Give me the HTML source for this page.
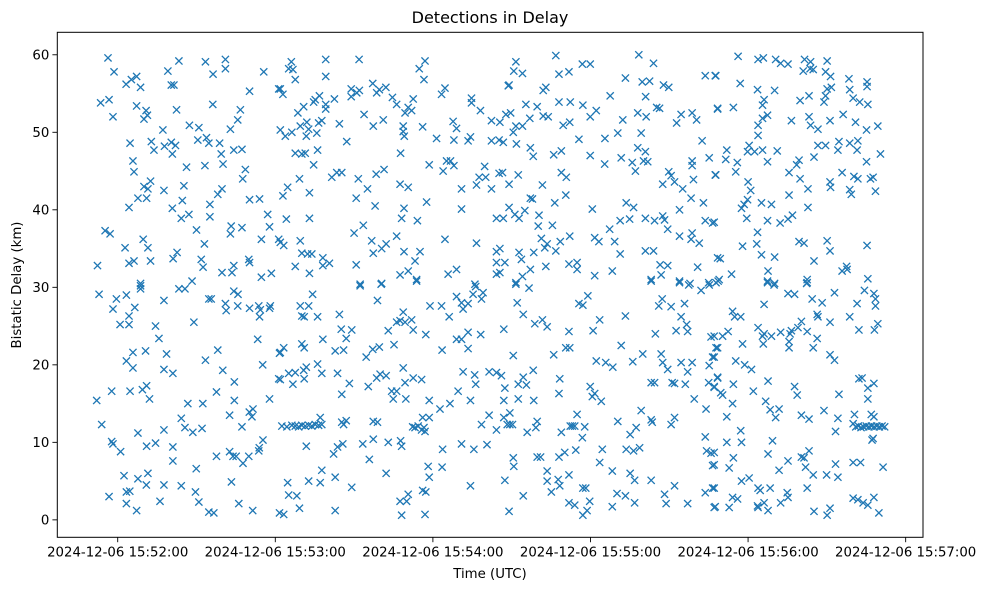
<!DOCTYPE html>
<html>
<head>
<meta charset="utf-8">
<style>
  html, body { margin: 0; padding: 0; background: #ffffff; }
  svg { display: block; font-family: "DejaVu Sans", "Liberation Sans", sans-serif; }
</style>
</head>
<body>
<svg id="chart" width="988" height="590" viewBox="0 0 988 590" xmlns="http://www.w3.org/2000/svg">
  <rect x="0" y="0" width="988" height="590" fill="#ffffff"/>
  <text x="490" y="23" text-anchor="middle" font-size="16" fill="#000">Detections in Delay</text>
  <g id="marks"></g>
  <g id="xticks"></g>
  <g id="yticks"></g>
  <rect x="57.3" y="32.3" width="865.7" height="505" fill="none" stroke="#000" stroke-width="1"/>
  <text x="490" y="578" text-anchor="middle" font-size="13.3" fill="#000">Time (UTC)</text>
  <text x="21" y="285" text-anchor="middle" font-size="13.3" fill="#000" transform="rotate(-90 21 285)">Bistatic Delay (km)</text>
</svg>
<script>
// x values: seconds after 2024-12-06 15:52:00 UTC; y values: bistatic delay (km)
const xTickValues = [0, 60, 120, 180, 240, 300];
const xTickLabels = ["2024-12-06 15:52:00", "2024-12-06 15:53:00", "2024-12-06 15:54:00", "2024-12-06 15:55:00", "2024-12-06 15:56:00", "2024-12-06 15:57:00"];
const yTickValues = [0, 10, 20, 30, 40, 50, 60];
const yTickLabels = ["0", "10", "20", "30", "40", "50", "60"];
const detections = [
[-3.7,59.6],[-1.4,57.8],[3.2,56.2],[5.2,56.8],[7.2,57.2],[8.7,55.8],[-6.5,53.8],[-3.3,54.2],[-1.8,52.0],[7.2,53.4],[10.8,52.8],[11.3,52.2],[10.0,51.7],[19.1,57.9],[23.3,59.2],[21.4,56.1],[20.4,56.1],[22.4,52.9],[33.4,59.1],[36.3,57.5],[41.0,59.4],[41.0,58.2],[55.6,57.8],[50.2,55.3],[61.3,55.6],[36.2,53.6],[46.7,52.9],[45.7,51.6],[42.9,50.4],[27.3,50.9],[30.9,50.6],[17.2,50.3],[4.7,48.6],[12.8,48.8],[13.8,47.7],[17.8,48.2],[20.4,48.7],[22.0,48.3],[20.8,47.2],[30.5,49.0],[33.8,49.3],[34.7,48.6],[38.8,48.6],[39.4,47.2],[40.1,45.9],[44.2,47.7],[47.3,47.8],[5.8,46.3],[6.2,44.9],[26.2,45.5],[33.2,45.7],[48.6,45.2],[47.6,44.0],[10.0,43.0],[11.5,42.7],[12.5,43.7],[17.6,42.5],[25.2,43.1],[7.7,41.5],[11.0,41.5],[4.3,40.3],[20.8,40.2],[24.6,41.2],[27.1,39.4],[24.2,38.9],[35.1,40.7],[35.1,39.1],[38.1,42.0],[39.7,42.7],[50.2,41.3],[54.0,41.4],[57.1,39.4],[57.8,37.8],[54.7,36.2],[61.3,36.2],[-4.8,37.3],[-2.9,36.9],[9.7,36.2],[11.5,35.1],[2.8,35.1],[30.0,37.4],[33.0,35.6],[43.2,37.9],[42.9,36.9],[47.3,37.7],[-7.7,32.8],[4.3,33.1],[6.2,33.4],[12.5,33.4],[21.1,33.7],[22.6,34.5],[31.8,33.6],[32.5,32.6],[39.7,31.9],[44.2,32.8],[43.5,31.9],[49.9,33.6],[50.2,33.2],[54.7,31.3],[58.5,31.8],[8.7,30.5],[28.3,30.8],
[-7.1,29.1],[-0.5,28.5],[3.3,29.0],[-1.8,27.2],[6.5,27.4],[4.3,26.3],[0.9,25.2],[4.3,25.2],[8.7,30.2],[8.7,29.8],[17.6,28.3],[23.3,29.8],[25.6,29.8],[14.4,25.0],[15.7,23.4],[29.0,25.5],[34.7,28.5],[35.6,28.5],[41.0,27.9],[41.3,27.0],[44.2,29.5],[45.8,29.1],[45.7,27.6],[50.2,27.3],[53.7,27.6],[54.3,27.1],[54.0,26.2],[58.1,27.6],[57.8,27.3],[53.3,23.3],[5.8,21.6],[3.3,20.5],[5.8,19.6],[10.6,21.8],[18.6,21.4],[17.6,19.4],[21.0,18.9],[33.4,20.6],[38.1,21.9],[40.0,19.3],[44.4,17.8],[55.2,20.0],[61.6,21.5],[61.3,18.2],[-8.0,15.4],[-2.3,16.6],[4.7,16.6],[9.4,16.8],[11.0,17.3],[12.1,15.6],[26.7,15.0],[32.4,15.0],[37.6,16.5],[44.4,15.4],[57.8,15.6],[42.6,13.5],[50.1,13.9],[51.5,14.3],[51.1,13.3],[-6.1,12.3],[24.2,13.1],[25.6,11.9],[28.6,11.3],[32.1,11.8],[17.6,11.6],[7.7,11.2],[47.3,12.0],[-2.3,10.1],[-1.8,9.8],[1.1,8.8],[11.0,9.5],[14.4,9.9],[21.0,9.4],[21.0,7.6],[37.6,8.2],[42.6,8.8],[43.9,8.2],[45.1,8.2],[47.7,7.3],[49.9,8.2],[53.9,9.3],[55.3,10.3],[53.7,8.9],[29.9,6.6],[2.4,5.7],[7.7,5.3],[11.5,6.0],[10.9,4.5],[3.3,3.6],[4.6,3.7],[-3.3,3.0],[3.3,2.1],[7.2,1.2],[17.6,4.5],[24.2,4.4],[29.6,3.6],[30.9,2.3],[16.1,2.4],[34.7,1.0],[36.6,0.9],[43.3,4.9],[46.1,2.1],[51.4,1.2],[61.6,0.9],
[66.1,59.1],[65.1,58.2],[66.7,58.1],[67.6,56.8],[62.9,54.9],[61.9,55.6],[79.2,59.4],[79.2,57.2],[91.9,59.4],[114.8,58.2],[117.0,59.2],[116.6,56.8],[68.6,52.5],[70.8,53.3],[74.6,53.9],[76.8,54.7],[75.2,54.2],[79.2,53.6],[79.2,53.0],[82.5,54.3],[88.9,55.6],[92.0,55.4],[91.0,55.1],[88.9,54.6],[97.1,56.3],[98.6,55.1],[99.6,55.5],[102.1,55.8],[104.6,54.5],[106.2,53.6],[109.4,52.5],[110.6,53.2],[111.9,52.8],[112.5,54.3],[123.3,54.9],[124.6,55.7],[134.7,54.4],[134.7,53.8],[138.1,52.8],[93.8,52.3],[61.9,50.3],[63.8,49.5],[66.3,50.0],[69.5,50.8],[72.0,51.3],[72.7,50.4],[75.8,49.9],[76.5,51.2],[77.7,51.5],[71.8,49.5],[84.4,51.1],[87.2,48.8],[97.3,50.8],[101.1,51.6],[108.7,50.8],[108.7,50.1],[109.1,49.5],[116.1,50.7],[121.4,49.2],[127.7,51.4],[129.0,50.5],[128.0,49.0],[133.4,48.9],[134.3,49.4],[142.3,51.5],[142.3,48.9],[145.2,49.0],[67.6,47.3],[70.1,47.2],[71.4,47.3],[76.1,47.7],[74.6,45.8],[107.7,47.3],[118.6,45.8],[123.9,45.0],[125.2,46.3],[126.7,46.3],[128.0,45.7],[139.7,45.6],[137.6,44.2],[136.6,43.2],[140.1,44.2],[142.3,42.7],[145.2,44.7],[69.2,44.0],[64.7,42.9],[62.9,41.8],[73.0,42.2],[81.5,44.2],[83.4,44.8],[85.3,44.8],[91.6,44.0],[95.1,42.7],[90.8,41.5],[98.4,44.6],[101.4,45.2],[107.5,43.3],[110.6,42.9],[98.0,40.5],[109.0,40.2],[108.1,38.9],[114.1,38.6],[117.6,41.0],[130.9,42.7],[130.9,40.1],[144.2,38.9],[64.2,38.8],[73.0,38.9],[93.5,38.0],[90.0,37.0],[96.7,36.0],[106.2,36.6],[102.2,35.6],[100.5,35.0],[97.3,34.4],[109.0,34.6],[115.1,34.6],[113.2,33.4],[61.9,35.8],[63.2,35.4],[69.5,36.0],[70.1,34.4],[73.9,34.3],[72.3,34.3],[78.1,33.8],[78.1,32.8],[80.6,33.1],[67.6,32.7],[73.0,31.8],[90.8,32.9],[92.3,30.4],[100.5,30.5],[107.5,31.6],[110.6,32.1],[113.8,31.0],[124.6,36.2],[136.6,35.7],[144.2,34.6],[144.2,33.2],[144.2,31.7],[125.8,31.7],[129.0,32.3],[136.0,30.4],
[92.3,30.2],[100.3,30.4],[113.8,30.8],[74.2,29.1],[69.5,27.6],[72.7,27.6],[70.1,26.3],[71.0,26.2],[76.1,26.2],[84.4,26.5],[98.9,28.3],[118.9,27.6],[123.3,27.6],[126.2,26.2],[129.0,28.8],[130.9,28.0],[131.5,27.2],[133.4,27.9],[136.3,30.1],[135.3,29.1],[139.1,29.3],[138.5,28.5],[108.7,26.8],[107.5,25.7],[106.2,25.5],[109.4,25.5],[111.9,25.8],[112.5,24.5],[103.0,24.4],[85.1,24.6],[89.1,24.5],[87.0,23.4],[78.1,23.3],[117.3,23.9],[129.0,23.3],[130.9,23.3],[133.4,24.2],[133.4,22.1],[138.2,23.9],[123.5,21.9],[63.2,22.2],[61.9,21.6],[70.1,22.7],[71.0,22.2],[82.8,21.8],[86.0,21.9],[94.6,21.0],[97.1,22.0],[99.6,22.3],[105.2,22.6],[61.9,18.1],[65.1,18.9],[67.6,19.0],[66.7,17.5],[70.8,19.3],[71.8,19.7],[71.0,18.2],[76.1,20.1],[77.7,18.9],[83.7,18.9],[88.2,17.6],[85.3,16.2],[95.4,17.2],[98.6,18.3],[99.9,18.8],[102.2,18.6],[108.7,19.6],[112.5,18.3],[115.7,18.1],[109.4,17.7],[104.3,16.6],[106.2,16.6],[104.9,15.6],[109.7,15.6],[118.6,15.4],[122.7,14.3],[126.5,15.0],[129.6,16.6],[134.3,15.4],[131.5,19.1],[135.9,18.7],[136.3,17.5],[141.4,19.1],[144.2,19.0],
[62.5,12.1],[64.4,12.0],[66.3,12.2],[67.6,12.1],[68.9,12.0],[70.1,12.2],[71.4,12.1],[72.7,12.2],[73.9,12.1],[75.2,12.3],[76.5,12.2],[77.7,12.3],[77.1,13.2],[85.3,12.6],[87.0,12.8],[86.0,12.3],[97.3,12.7],[98.9,12.6],[112.3,12.0],[114.4,12.1],[116.1,13.2],[116.6,11.9],[115.7,11.6],[118.6,13.2],[113.2,11.9],[117.0,11.4],[141.4,13.5],[138.5,12.3],[144.2,11.6],[71.8,9.5],[82.2,8.5],[83.7,9.4],[85.7,9.8],[93.3,9.8],[97.3,10.4],[103.0,10.0],[107.7,10.2],[108.1,9.5],[123.7,9.1],[130.9,9.8],[135.6,9.1],[140.6,9.7],[95.8,7.8],[77.7,6.4],[102.2,6.0],[64.7,4.8],[72.7,5.0],[77.1,4.8],[82.8,5.5],[89.1,4.2],[118.2,6.9],[118.6,5.5],[123.5,6.8],[134.3,4.4],[65.1,3.2],[68.2,3.1],[69.2,1.5],[63.2,0.7],[82.8,1.2],[107.5,2.4],[110.6,3.3],[110.0,2.4],[116.1,3.8],[117.3,3.6],[108.1,0.6],[117.0,0.7],
[151.6,59.1],[150.8,57.9],[154.1,57.6],[148.7,56.0],[149.0,56.1],[166.8,59.9],[168.0,57.5],[171.8,57.8],[176.9,58.8],[179.9,58.8],[162.0,55.4],[163.0,55.8],[155.4,53.6],[159.7,53.3],[168.0,53.9],[172.3,53.9],[177.1,53.5],[182.2,52.8],[179.9,52.0],[187.5,54.7],[147.8,52.3],[149.6,52.5],[145.5,51.3],[156.9,51.8],[162.0,52.1],[163.9,52.0],[151.6,50.8],[150.6,50.0],[154.1,50.8],[169.6,50.9],[172.1,51.3],[146.8,48.7],[151.8,48.5],[157.1,48.0],[158.2,46.9],[166.0,47.1],[168.9,47.6],[175.6,49.1],[179.9,47.0],[185.5,49.2],[190.4,49.9],[192.3,51.6],[198.4,60.0],[204.0,58.9],[193.3,57.0],[199.7,56.5],[202.5,56.6],[201.0,54.6],[207.8,56.1],[209.8,55.8],[198.0,52.5],[201.2,52.0],[205.2,53.2],[206.3,53.1],[199.3,49.9],[214.5,52.3],[212.8,51.2],[218.7,52.5],[220.4,51.6],[223.7,57.3],[227.5,57.3],[228.4,53.1],[222.5,48.9],[198.0,48.0],[200.9,47.5],[201.8,46.2],[200.2,46.3],[195.9,46.1],[197.1,45.0],[191.7,46.7],[185.4,45.9],[218.7,46.3],[218.7,45.7],[225.2,46.7],[227.5,44.5],[209.8,44.9],[210.7,44.4],[207.5,43.3],[212.0,43.6],[215.1,42.7],[219.2,43.9],[146.5,44.8],[152.5,44.5],[149.0,43.3],[161.7,43.2],[168.9,44.8],[170.8,44.2],[170.6,41.9],[157.1,41.5],[157.9,41.4],[166.4,40.9],[218.3,41.5],[223.0,40.9],[213.9,40.0],[193.6,40.9],[196.4,40.3],[180.7,40.1],[149.0,40.3],[151.2,39.4],[146.8,38.9],[152.8,38.9],[155.0,39.9],[160.4,39.3],[160.1,37.9],[165.5,38.0],[191.3,38.6],[194.9,38.8],[200.9,38.9],[204.4,38.6],[207.5,39.2],[208.2,38.7],[209.4,37.5],[187.3,37.5],[223.7,38.6],[226.5,38.3],[161.3,36.3],[163.5,35.6],[162.6,35.1],[166.8,34.7],[168.5,35.9],[172.1,36.6],[181.6,36.4],[183.2,35.9],[189.2,35.9],[191.3,34.3],[200.9,34.7],[204.0,34.7],[213.9,36.6],[218.7,37.0],[218.3,36.2],[221.4,35.7],[145.5,35.0],[147.4,33.2],[152.8,34.5],[153.7,33.6],[158.4,34.5],[157.1,32.3],[163.0,32.7],[154.1,31.4],[151.6,30.6],[145.5,31.9],[171.8,33.0],[174.9,33.2],[174.9,32.3],[181.6,31.5],[188.3,32.1],[206.5,32.9],[209.4,32.8],[206.9,31.6],[203.1,31.0],[213.9,30.8],[217.9,30.5],[220.8,32.6],[225.0,30.6],[228.4,33.8],[229.0,31.0],
[151.6,30.4],[156.6,29.9],[152.1,28.0],[154.4,26.5],[158.8,25.3],[161.7,25.8],[163.5,24.9],[147.0,24.6],[175.6,27.9],[177.1,27.7],[179.0,28.9],[183.5,25.8],[181.0,24.4],[171.8,24.3],[193.3,26.3],[203.1,30.8],[213.9,30.6],[217.4,30.3],[222.1,29.6],[225.2,30.3],[227.8,30.6],[207.3,28.5],[206.0,27.6],[210.7,27.5],[215.8,27.9],[214.5,26.2],[216.6,25.2],[217.0,24.3],[212.6,24.4],[204.7,24.0],[225.9,23.6],[227.8,22.2],[226.5,21.0],[225.2,19.9],[150.6,21.2],[166.0,21.3],[170.6,22.2],[172.1,22.2],[191.7,22.5],[182.2,20.5],[185.8,20.3],[188.5,19.7],[196.1,20.4],[199.9,21.4],[206.9,21.4],[207.5,20.3],[209.4,19.4],[214.5,20.3],[217.0,19.1],[218.7,20.3],[146.1,18.6],[147.4,17.0],[152.5,17.5],[154.4,18.4],[155.6,17.4],[158.2,19.3],[168.3,18.2],[168.0,16.3],[179.9,17.2],[181.6,16.3],[180.7,15.9],[184.1,15.3],[203.1,17.7],[204.4,17.7],[211.1,17.7],[212.0,17.6],[216.1,17.5],[225.0,17.7],[227.1,17.1],[228.4,18.4],[147.0,15.4],[152.5,15.6],[158.4,15.4],[219.5,15.6],[224.0,14.3],[149.3,13.8],[147.0,13.2],[149.3,12.3],[148.3,12.3],[150.3,12.3],[155.9,11.3],[159.2,11.9],[159.7,12.7],[168.9,11.3],[173.1,12.1],[172.3,12.1],[174.0,12.1],[174.9,13.6],[177.8,12.0],[176.9,10.6],[190.4,12.7],[199.3,14.1],[197.4,11.9],[195.1,11.0],[203.1,12.9],[203.5,12.6],[210.7,12.3],[212.0,13.2],[223.7,10.7],[224.2,8.9],[225.9,8.6],[226.5,7.0],[150.6,8.0],[150.8,6.9],[159.7,8.1],[161.0,8.1],[168.0,8.1],[170.2,8.7],[174.4,9.0],[184.5,9.1],[183.5,7.4],[193.6,9.1],[196.4,8.9],[198.7,9.3],[188.3,6.3],[195.1,6.0],[196.8,5.1],[203.1,5.1],[212.0,4.4],[163.5,6.3],[163.5,5.0],[167.7,5.2],[168.3,4.4],[171.8,5.8],[147.4,5.1],[165.1,3.6],[177.1,4.1],[178.2,4.1],[154.4,3.1],[149.0,1.1],[171.8,2.2],[174.0,1.9],[179.7,2.4],[178.7,1.2],[177.1,0.6],[188.3,1.7],[190.1,3.4],[193.3,3.1],[196.8,2.2],[208.2,3.3],[208.8,2.1],[217.0,2.1],[223.7,3.5],[226.5,4.1],[227.5,1.7],
[236.2,59.8],[243.8,59.4],[245.8,59.6],[250.5,59.4],[252.4,58.9],[255.2,58.8],[261.5,59.4],[263.8,59.1],[261.0,57.9],[263.6,58.2],[264.8,58.1],[270.1,59.2],[269.5,57.8],[271.4,57.2],[227.7,57.3],[237.0,56.3],[243.6,55.5],[246.1,54.2],[245.5,53.5],[250.1,55.4],[259.8,54.1],[263.2,54.7],[268.9,53.9],[269.5,54.7],[270.1,55.6],[271.7,55.8],[278.4,56.9],[278.7,55.5],[280.0,54.4],[282.5,53.9],[285.6,53.6],[285.3,56.5],[285.3,55.9],[228.4,53.0],[234.4,53.2],[247.4,52.2],[245.5,51.8],[243.8,50.9],[243.8,49.6],[256.5,51.5],[263.2,52.0],[263.8,50.9],[266.6,50.4],[271.2,51.5],[276.2,52.3],[280.9,51.3],[285.1,50.3],[289.4,50.8],[231.9,47.7],[231.5,46.5],[235.9,46.1],[235.3,44.9],[240.4,48.3],[239.8,47.5],[242.5,47.5],[245.5,47.7],[251.1,47.6],[247.4,46.2],[266.6,48.3],[269.5,48.3],[274.6,48.8],[274.2,47.7],[278.7,48.6],[281.8,48.9],[281.5,47.7],[285.1,46.2],[290.4,47.2],[265.1,46.8],[259.4,46.4],[258.5,45.8],[255.6,44.8],[259.8,44.0],[227.7,44.5],[240.0,43.6],[241.0,42.5],[239.8,41.3],[238.5,40.7],[237.5,40.2],[239.5,38.9],[245.1,40.9],[248.9,40.7],[255.6,41.9],[262.8,42.7],[262.8,40.3],[256.9,39.3],[255.2,38.8],[252.2,38.3],[247.4,38.6],[275.8,44.8],[280.3,44.3],[281.8,44.0],[286.6,44.0],[287.6,44.2],[271.2,43.6],[271.4,42.9],[278.7,42.6],[279.3,42.0],[288.5,42.4],[227.1,38.4],[243.6,37.1],[237.9,35.3],[243.3,35.6],[245.1,34.2],[250.1,33.9],[229.4,33.7],[259.4,35.9],[261.3,35.7],[270.1,36.0],[271.2,34.7],[265.1,33.4],[285.3,35.4],[275.8,32.1],[277.5,32.7],[277.7,32.3],[233.7,31.7],[247.6,32.1],[247.4,30.8],[250.1,30.5],[262.5,31.0],[262.3,30.5],[228.6,30.8],[285.6,31.1],
[247.4,30.6],[249.9,30.3],[262.5,30.6],[255.2,29.2],[257.7,29.1],[264.4,28.5],[268.2,28.0],[272.9,29.3],[284.3,29.6],[287.9,29.2],[288.5,28.5],[288.5,27.6],[281.5,27.9],[246.1,27.8],[234.1,26.9],[234.9,26.2],[237.2,26.2],[243.8,24.8],[246.1,24.0],[248.9,23.7],[245.5,23.7],[245.8,22.7],[252.4,24.2],[256.0,24.0],[255.6,23.0],[255.6,22.2],[256.5,24.4],[259.0,24.8],[260.3,25.6],[262.5,24.3],[266.3,26.5],[266.6,26.2],[266.3,23.4],[264.8,22.2],[271.2,25.5],[278.7,26.2],[282.2,24.5],[288.1,24.5],[289.4,25.3],[227.1,23.7],[230.3,23.7],[232.4,24.3],[228.4,22.2],[227.1,21.0],[237.9,22.7],[235.3,20.5],[238.7,20.0],[241.3,19.4],[271.2,21.3],[272.9,20.6],[228.4,18.3],[227.1,17.2],[229.6,16.4],[230.3,16.1],[234.4,17.5],[234.1,15.0],[242.0,16.6],[247.6,17.9],[246.7,15.3],[248.4,14.2],[251.8,14.3],[250.5,13.2],[257.7,17.2],[258.7,16.1],[260.3,13.5],[263.2,13.0],[268.9,14.1],[274.2,13.1],[274.6,16.2],[231.9,13.3],[282.2,18.2],[283.4,18.3],[285.6,17.0],[287.9,17.6],[285.6,15.6],[280.5,13.6],[280.0,12.4],[286.9,13.6],[287.9,13.3],[273.3,11.4],
[281.0,12.0],[282.0,12.1],[283.0,11.9],[284.0,12.0],[285.0,12.1],[286.0,12.0],[287.0,12.1],[288.0,12.0],[289.0,12.1],[290.0,12.0],[291.0,12.1],[292.0,12.0],[287.6,10.5],[287.2,10.3],
[237.2,11.5],[237.5,10.0],[231.9,10.0],[249.3,10.2],[247.6,8.5],[227.1,8.7],[234.4,8.0],[232.8,6.7],[227.1,7.1],[227.1,4.1],[237.5,5.0],[240.4,5.4],[243.8,4.1],[244.6,3.8],[248.4,4.1],[255.2,7.6],[251.8,6.4],[260.3,8.1],[261.3,8.0],[263.2,8.9],[261.9,6.8],[264.8,5.8],[269.9,5.8],[274.2,5.5],[273.3,7.2],[280.0,7.4],[282.8,7.4],[291.4,6.8],[262.5,4.1],[227.1,1.6],[232.8,1.6],[234.1,2.9],[236.0,2.7],[243.6,1.8],[243.8,1.6],[246.1,2.2],[247.6,1.2],[252.4,2.2],[255.2,2.9],[254.9,3.5],[265.1,1.1],[270.1,0.6],[271.2,1.5],[280.0,2.8],[281.8,2.6],[283.8,2.2],[285.6,1.9],[287.9,2.9],[289.8,0.9]
];

// axis functions (matplotlib-like limits)
const X0 = 57.3, X1 = 923, Y0 = 537.3, Y1 = 32.3;
const xMin = -23.0, xMax = 306.6, yMin = -2.25, yMax = 62.9;
function xScale(v) { return X0 + (v - xMin) / (xMax - xMin) * (X1 - X0); }
function yScale(v) { return Y0 - (v - yMin) / (yMax - yMin) * (Y0 - Y1); }

const NS = "http://www.w3.org/2000/svg";
const marks = document.getElementById("marks");
const r = 3.6;
detections.forEach(function (p, i) {
  const cx = xScale(p[0]), cy = yScale(p[1]);
  const path = document.createElementNS(NS, "path");
  path.setAttribute("d", "M" + (cx - r) + "," + (cy - r) + "L" + (cx + r) + "," + (cy + r) + "M" + (cx - r) + "," + (cy + r) + "L" + (cx + r) + "," + (cy - r));
  path.setAttribute("stroke", "#1f77b4");
  path.setAttribute("stroke-width", "1.3");
  path.setAttribute("fill", "none");
  
  
  marks.appendChild(path);
});

const xg = document.getElementById("xticks");
xTickValues.forEach(function (v, i) {
  const x = xScale(v);
  const tk = document.createElementNS(NS, "line");
  tk.setAttribute("x1", x); tk.setAttribute("x2", x);
  tk.setAttribute("y1", Y0); tk.setAttribute("y2", Y0 + 4.9);
  tk.setAttribute("stroke", "#000"); tk.setAttribute("stroke-width", "0.9");
  
  
  xg.appendChild(tk);
  const t = document.createElementNS(NS, "text");
  t.setAttribute("x", x); t.setAttribute("y", Y0 + 19);
  t.setAttribute("text-anchor", "middle"); t.setAttribute("font-size", "13.3");
  t.textContent = xTickLabels[i];
  
  
  xg.appendChild(t);
});

const yg = document.getElementById("yticks");
yTickValues.forEach(function (v, i) {
  const y = yScale(v);
  const tk = document.createElementNS(NS, "line");
  tk.setAttribute("x1", X0 - 4.9); tk.setAttribute("x2", X0);
  tk.setAttribute("y1", y); tk.setAttribute("y2", y);
  tk.setAttribute("stroke", "#000"); tk.setAttribute("stroke-width", "0.9");
  
  
  yg.appendChild(tk);
  const t = document.createElementNS(NS, "text");
  t.setAttribute("x", X0 - 8); t.setAttribute("y", y + 4.8);
  t.setAttribute("text-anchor", "end"); t.setAttribute("font-size", "13.3");
  t.textContent = yTickLabels[i];
  
  
  yg.appendChild(t);
});
</script>
</body>
</html>
